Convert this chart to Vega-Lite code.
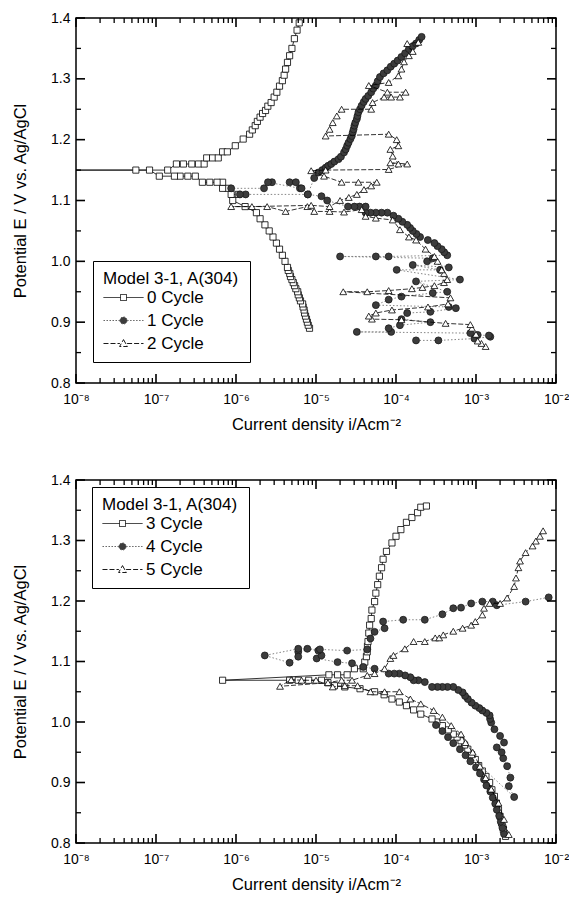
{
  "$schema": "https://vega.github.io/schema/vega-lite/v6.json",
  "padding": {"left": 11, "top": 10, "right": 4, "bottom": 5},
  "background": "white",
  "config": {
    "font": "Liberation Sans",
    "view": {"stroke": "black", "strokeWidth": 1.5},
    "axis": {"domain": false, "grid": false, "ticks": false, "labelFont": "Liberation Sans", "labelFontSize": 14, "labelColor": "black", "titleFont": "Liberation Sans", "titleFontSize": 16.5, "titleFontWeight": "normal", "titleColor": "black", "labelFlush": false},
    "tick": {"opacity": 1, "color": "black"},
    "legend": {"titleFont": "Liberation Sans", "labelFont": "Liberation Sans", "titleFontSize": 17, "labelFontSize": 17, "titleFontWeight": "normal", "titleColor": "black", "labelColor": "black", "strokeColor": "black", "fillColor": "white", "padding": 10, "rowPadding": 5, "titlePadding": 1, "symbolSize": 36, "symbolOffset": 12, "labelOffset": 15, "symbolStrokeWidth": 0.9}
  },
  "datasets": {
    "xticks": [
      {"v":1e-8,"k":"major"},{"v":1e-7,"k":"major"},{"v":1e-6,"k":"major"},{"v":1e-5,"k":"major"},{"v":1e-4,"k":"major"},{"v":1e-3,"k":"major"},{"v":1e-2,"k":"major"},
      {"v":2e-8,"k":"minor"},{"v":3e-8,"k":"minor"},{"v":4e-8,"k":"minor"},{"v":5e-8,"k":"minor"},{"v":6e-8,"k":"minor"},{"v":7e-8,"k":"minor"},{"v":8e-8,"k":"minor"},{"v":9e-8,"k":"minor"},
      {"v":2e-7,"k":"minor"},{"v":3e-7,"k":"minor"},{"v":4e-7,"k":"minor"},{"v":5e-7,"k":"minor"},{"v":6e-7,"k":"minor"},{"v":7e-7,"k":"minor"},{"v":8e-7,"k":"minor"},{"v":9e-7,"k":"minor"},
      {"v":2e-6,"k":"minor"},{"v":3e-6,"k":"minor"},{"v":4e-6,"k":"minor"},{"v":5e-6,"k":"minor"},{"v":6e-6,"k":"minor"},{"v":7e-6,"k":"minor"},{"v":8e-6,"k":"minor"},{"v":9e-6,"k":"minor"},
      {"v":2e-5,"k":"minor"},{"v":3e-5,"k":"minor"},{"v":4e-5,"k":"minor"},{"v":5e-5,"k":"minor"},{"v":6e-5,"k":"minor"},{"v":7e-5,"k":"minor"},{"v":8e-5,"k":"minor"},{"v":9e-5,"k":"minor"},
      {"v":2e-4,"k":"minor"},{"v":3e-4,"k":"minor"},{"v":4e-4,"k":"minor"},{"v":5e-4,"k":"minor"},{"v":6e-4,"k":"minor"},{"v":7e-4,"k":"minor"},{"v":8e-4,"k":"minor"},{"v":9e-4,"k":"minor"},
      {"v":2e-3,"k":"minor"},{"v":3e-3,"k":"minor"},{"v":4e-3,"k":"minor"},{"v":5e-3,"k":"minor"},{"v":6e-3,"k":"minor"},{"v":7e-3,"k":"minor"},{"v":8e-3,"k":"minor"},{"v":9e-3,"k":"minor"}
    ],
    "yticks": [
      {"v":0.8,"k":"major"},{"v":0.9,"k":"major"},{"v":1.0,"k":"major"},{"v":1.1,"k":"major"},{"v":1.2,"k":"major"},{"v":1.3,"k":"major"},{"v":1.4,"k":"major"},
      {"v":0.85,"k":"minor"},{"v":0.95,"k":"minor"},{"v":1.05,"k":"minor"},{"v":1.15,"k":"minor"},{"v":1.25,"k":"minor"},{"v":1.35,"k":"minor"}
    ],
    "top": [
      {"s":"0 Cycle","E":0.89,"i":8.3e-6},{"s":"0 Cycle","E":0.895,"i":8.0e-6},{"s":"0 Cycle","E":0.90,"i":7.8e-6},{"s":"0 Cycle","E":0.905,"i":7.6e-6},{"s":"0 Cycle","E":0.91,"i":7.4e-6},{"s":"0 Cycle","E":0.915,"i":7.2e-6},{"s":"0 Cycle","E":0.92,"i":7.1e-6},{"s":"0 Cycle","E":0.925,"i":6.9e-6},{"s":"0 Cycle","E":0.93,"i":6.8e-6},{"s":"0 Cycle","E":0.935,"i":6.4e-6},{"s":"0 Cycle","E":0.94,"i":6.2e-6},{"s":"0 Cycle","E":0.945,"i":6.0e-6},{"s":"0 Cycle","E":0.95,"i":5.9e-6},{"s":"0 Cycle","E":0.955,"i":5.6e-6},{"s":"0 Cycle","E":0.96,"i":5.4e-6},{"s":"0 Cycle","E":0.965,"i":5.2e-6},{"s":"0 Cycle","E":0.97,"i":5.0e-6},{"s":"0 Cycle","E":0.975,"i":4.8e-6},{"s":"0 Cycle","E":0.98,"i":4.7e-6},{"s":"0 Cycle","E":0.985,"i":4.5e-6},{"s":"0 Cycle","E":0.99,"i":4.4e-6},{"s":"0 Cycle","E":1.00,"i":4.1e-6},{"s":"0 Cycle","E":1.01,"i":3.8e-6},{"s":"0 Cycle","E":1.02,"i":3.5e-6},{"s":"0 Cycle","E":1.03,"i":3.2e-6},{"s":"0 Cycle","E":1.04,"i":2.9e-6},{"s":"0 Cycle","E":1.05,"i":2.6e-6},{"s":"0 Cycle","E":1.06,"i":2.3e-6},{"s":"0 Cycle","E":1.07,"i":2.0e-6},{"s":"0 Cycle","E":1.08,"i":1.8e-6},{"s":"0 Cycle","E":1.09,"i":1.3e-6},{"s":"0 Cycle","E":1.10,"i":9.1e-7},{"s":"0 Cycle","E":1.11,"i":1.07e-6},{"s":"0 Cycle","E":1.11,"i":8.7e-7},{"s":"0 Cycle","E":1.12,"i":7.9e-7},{"s":"0 Cycle","E":1.12,"i":6.8e-7},{"s":"0 Cycle","E":1.13,"i":6.8e-7},{"s":"0 Cycle","E":1.13,"i":5.8e-7},{"s":"0 Cycle","E":1.13,"i":4.7e-7},{"s":"0 Cycle","E":1.13,"i":3.8e-7},{"s":"0 Cycle","E":1.14,"i":3.1e-7},{"s":"0 Cycle","E":1.14,"i":2.5e-7},{"s":"0 Cycle","E":1.14,"i":2.0e-7},{"s":"0 Cycle","E":1.14,"i":1.7e-7},{"s":"0 Cycle","E":1.14,"i":1.1e-7},{"s":"0 Cycle","E":1.15,"i":8.3e-8},{"s":"0 Cycle","E":1.15,"i":5.6e-8},{"s":"0 Cycle","E":1.15,"i":3e-9},{"s":"0 Cycle","E":1.15,"i":1.4e-7},{"s":"0 Cycle","E":1.16,"i":1.8e-7},{"s":"0 Cycle","E":1.16,"i":2.2e-7},{"s":"0 Cycle","E":1.16,"i":2.8e-7},{"s":"0 Cycle","E":1.16,"i":3.4e-7},{"s":"0 Cycle","E":1.16,"i":4.0e-7},{"s":"0 Cycle","E":1.17,"i":4.3e-7},{"s":"0 Cycle","E":1.17,"i":5.1e-7},{"s":"0 Cycle","E":1.17,"i":6.0e-7},{"s":"0 Cycle","E":1.18,"i":6.8e-7},{"s":"0 Cycle","E":1.18,"i":7.8e-7},{"s":"0 Cycle","E":1.19,"i":9.8e-7},{"s":"0 Cycle","E":1.201,"i":1.23e-6},{"s":"0 Cycle","E":1.209,"i":1.48e-6},{"s":"0 Cycle","E":1.216,"i":1.6e-6},{"s":"0 Cycle","E":1.223,"i":1.74e-6},{"s":"0 Cycle","E":1.23,"i":1.85e-6},{"s":"0 Cycle","E":1.237,"i":2.0e-6},{"s":"0 Cycle","E":1.243,"i":2.15e-6},{"s":"0 Cycle","E":1.248,"i":2.34e-6},{"s":"0 Cycle","E":1.255,"i":2.5e-6},{"s":"0 Cycle","E":1.261,"i":2.75e-6},{"s":"0 Cycle","E":1.27,"i":3.0e-6},{"s":"0 Cycle","E":1.278,"i":3.24e-6},{"s":"0 Cycle","E":1.288,"i":3.5e-6},{"s":"0 Cycle","E":1.297,"i":3.8e-6},{"s":"0 Cycle","E":1.306,"i":4.0e-6},{"s":"0 Cycle","E":1.316,"i":4.17e-6},{"s":"0 Cycle","E":1.327,"i":4.4e-6},{"s":"0 Cycle","E":1.338,"i":4.68e-6},{"s":"0 Cycle","E":1.35,"i":5.0e-6},{"s":"0 Cycle","E":1.366,"i":5.37e-6},{"s":"0 Cycle","E":1.38,"i":5.8e-6},{"s":"0 Cycle","E":1.392,"i":6.17e-6},
      {"s":"1 Cycle","E":0.870,"i":1.78e-4},{"s":"1 Cycle","E":0.870,"i":3.39e-4},{"s":"1 Cycle","E":0.873,"i":9.55e-4},{"s":"1 Cycle","E":0.876,"i":1.51e-3},{"s":"1 Cycle","E":0.878,"i":1.45e-3},{"s":"1 Cycle","E":0.879,"i":1.05e-3},{"s":"1 Cycle","E":0.882,"i":8.5e-4},{"s":"1 Cycle","E":0.884,"i":3.24e-5},{"s":"1 Cycle","E":0.884,"i":8.7e-5},{"s":"1 Cycle","E":0.89,"i":8.1e-5},{"s":"1 Cycle","E":0.895,"i":1.12e-4},{"s":"1 Cycle","E":0.90,"i":2.69e-4},{"s":"1 Cycle","E":0.905,"i":1.17e-4},{"s":"1 Cycle","E":0.915,"i":1.38e-4},{"s":"1 Cycle","E":0.917,"i":2.69e-4},{"s":"1 Cycle","E":0.923,"i":5.6e-4},{"s":"1 Cycle","E":0.925,"i":4.57e-4},{"s":"1 Cycle","E":0.928,"i":5.6e-5},{"s":"1 Cycle","E":0.937,"i":8.1e-5},{"s":"1 Cycle","E":0.942,"i":1.17e-4},{"s":"1 Cycle","E":0.948,"i":2.88e-4},{"s":"1 Cycle","E":0.95,"i":4.37e-4},{"s":"1 Cycle","E":0.967,"i":1.78e-4},{"s":"1 Cycle","E":0.97,"i":6.3e-4},{"s":"1 Cycle","E":0.986,"i":1.02e-4},{"s":"1 Cycle","E":0.986,"i":3.55e-4},{"s":"1 Cycle","E":0.994,"i":1.62e-4},{"s":"1 Cycle","E":0.99,"i":4.57e-4},{"s":"1 Cycle","E":1.0,"i":2.45e-4},{"s":"1 Cycle","E":1.005,"i":2.88e-4},{"s":"1 Cycle","E":1.008,"i":2.0e-5},{"s":"1 Cycle","E":1.008,"i":5.6e-5},{"s":"1 Cycle","E":1.008,"i":8.1e-5},{"s":"1 Cycle","E":1.01,"i":4.37e-4},{"s":"1 Cycle","E":1.015,"i":4.0e-4},{"s":"1 Cycle","E":1.02,"i":3.72e-4},{"s":"1 Cycle","E":1.025,"i":3.3e-4},{"s":"1 Cycle","E":1.03,"i":3.02e-4},{"s":"1 Cycle","E":1.035,"i":2.5e-4},{"s":"1 Cycle","E":1.04,"i":2.0e-4},{"s":"1 Cycle","E":1.045,"i":1.8e-4},{"s":"1 Cycle","E":1.05,"i":1.62e-4},{"s":"1 Cycle","E":1.055,"i":1.5e-4},{"s":"1 Cycle","E":1.06,"i":1.38e-4},{"s":"1 Cycle","E":1.065,"i":1.2e-4},{"s":"1 Cycle","E":1.07,"i":1.07e-4},{"s":"1 Cycle","E":1.075,"i":9.3e-5},{"s":"1 Cycle","E":1.08,"i":7.8e-5},{"s":"1 Cycle","E":1.08,"i":6.6e-5},{"s":"1 Cycle","E":1.08,"i":5.6e-5},{"s":"1 Cycle","E":1.08,"i":4.8e-5},{"s":"1 Cycle","E":1.08,"i":4.17e-5},{"s":"1 Cycle","E":1.09,"i":4.17e-5},{"s":"1 Cycle","E":1.09,"i":3.5e-5},{"s":"1 Cycle","E":1.09,"i":3.02e-5},{"s":"1 Cycle","E":1.09,"i":2.51e-5},{"s":"1 Cycle","E":1.10,"i":1.38e-5},{"s":"1 Cycle","E":1.107,"i":1.17e-5},{"s":"1 Cycle","E":1.11,"i":7.9e-6},{"s":"1 Cycle","E":1.11,"i":1.32e-6},{"s":"1 Cycle","E":1.11,"i":1.12e-6},{"s":"1 Cycle","E":1.12,"i":8.7e-7},{"s":"1 Cycle","E":1.12,"i":2.24e-6},{"s":"1 Cycle","E":1.13,"i":2.82e-6},{"s":"1 Cycle","E":1.13,"i":2.51e-6},{"s":"1 Cycle","E":1.12,"i":6.3e-6},{"s":"1 Cycle","E":1.13,"i":4.68e-6},{"s":"1 Cycle","E":1.13,"i":5.6e-6},{"s":"1 Cycle","E":1.12,"i":6.6e-6},{"s":"1 Cycle","E":1.11,"i":7.9e-6},{"s":"1 Cycle","E":1.137,"i":9.5e-6},{"s":"1 Cycle","E":1.146,"i":1.07e-5},{"s":"1 Cycle","E":1.15,"i":1.2e-5},{"s":"1 Cycle","E":1.154,"i":1.32e-5},{"s":"1 Cycle","E":1.157,"i":1.42e-5},{"s":"1 Cycle","E":1.16,"i":1.55e-5},{"s":"1 Cycle","E":1.164,"i":1.7e-5},{"s":"1 Cycle","E":1.168,"i":1.91e-5},{"s":"1 Cycle","E":1.172,"i":2.05e-5},{"s":"1 Cycle","E":1.179,"i":2.24e-5},{"s":"1 Cycle","E":1.184,"i":2.35e-5},{"s":"1 Cycle","E":1.19,"i":2.45e-5},{"s":"1 Cycle","E":1.195,"i":2.55e-5},{"s":"1 Cycle","E":1.201,"i":2.69e-5},{"s":"1 Cycle","E":1.206,"i":2.8e-5},{"s":"1 Cycle","E":1.212,"i":2.88e-5},{"s":"1 Cycle","E":1.217,"i":2.95e-5},{"s":"1 Cycle","E":1.223,"i":3.02e-5},{"s":"1 Cycle","E":1.228,"i":3.1e-5},{"s":"1 Cycle","E":1.234,"i":3.24e-5},{"s":"1 Cycle","E":1.239,"i":3.3e-5},{"s":"1 Cycle","E":1.245,"i":3.39e-5},{"s":"1 Cycle","E":1.25,"i":3.55e-5},{"s":"1 Cycle","E":1.256,"i":3.72e-5},{"s":"1 Cycle","E":1.262,"i":3.95e-5},{"s":"1 Cycle","E":1.267,"i":4.17e-5},{"s":"1 Cycle","E":1.272,"i":4.5e-5},{"s":"1 Cycle","E":1.278,"i":4.9e-5},{"s":"1 Cycle","E":1.284,"i":5.2e-5},{"s":"1 Cycle","E":1.289,"i":5.6e-5},{"s":"1 Cycle","E":1.296,"i":5.9e-5},{"s":"1 Cycle","E":1.303,"i":6.3e-5},{"s":"1 Cycle","E":1.309,"i":7.0e-5},{"s":"1 Cycle","E":1.314,"i":7.8e-5},{"s":"1 Cycle","E":1.32,"i":8.6e-5},{"s":"1 Cycle","E":1.325,"i":9.5e-5},{"s":"1 Cycle","E":1.33,"i":1.05e-4},{"s":"1 Cycle","E":1.336,"i":1.17e-4},{"s":"1 Cycle","E":1.342,"i":1.3e-4},{"s":"1 Cycle","E":1.349,"i":1.45e-4},{"s":"1 Cycle","E":1.353,"i":1.6e-4},{"s":"1 Cycle","E":1.358,"i":1.78e-4},{"s":"1 Cycle","E":1.364,"i":1.95e-4},{"s":"1 Cycle","E":1.369,"i":2.09e-4},
      {"s":"2 Cycle","E":0.86,"i":1.32e-3},{"s":"2 Cycle","E":0.865,"i":1.17e-3},{"s":"2 Cycle","E":0.869,"i":1.05e-3},{"s":"2 Cycle","E":0.88,"i":1.0e-3},{"s":"2 Cycle","E":0.89,"i":8.9e-4},{"s":"2 Cycle","E":0.896,"i":8.5e-4},{"s":"2 Cycle","E":0.898,"i":4.17e-4},{"s":"2 Cycle","E":0.904,"i":1.17e-4},{"s":"2 Cycle","E":0.905,"i":5.0e-5},{"s":"2 Cycle","E":0.91,"i":4.57e-5},{"s":"2 Cycle","E":0.915,"i":5.6e-5},{"s":"2 Cycle","E":0.92,"i":8.9e-5},{"s":"2 Cycle","E":0.925,"i":2.51e-4},{"s":"2 Cycle","E":0.93,"i":4.47e-4},{"s":"2 Cycle","E":0.94,"i":4.79e-4},{"s":"2 Cycle","E":0.95,"i":2.19e-5},{"s":"2 Cycle","E":0.95,"i":4.37e-5},{"s":"2 Cycle","E":0.952,"i":8.1e-5},{"s":"2 Cycle","E":0.955,"i":1.58e-4},{"s":"2 Cycle","E":0.957,"i":2.14e-4},{"s":"2 Cycle","E":0.96,"i":3.02e-4},{"s":"2 Cycle","E":0.965,"i":3.98e-4},{"s":"2 Cycle","E":0.97,"i":4.37e-4},{"s":"2 Cycle","E":0.98,"i":3.98e-4},{"s":"2 Cycle","E":0.986,"i":3.72e-4},{"s":"2 Cycle","E":1.0,"i":3.31e-4},{"s":"2 Cycle","E":1.008,"i":3.02e-4},{"s":"2 Cycle","E":1.02,"i":2.34e-4},{"s":"2 Cycle","E":1.035,"i":1.78e-4},{"s":"2 Cycle","E":1.04,"i":1.45e-4},{"s":"2 Cycle","E":1.052,"i":1.12e-4},{"s":"2 Cycle","E":1.068,"i":9.1e-5},{"s":"2 Cycle","E":1.071,"i":5.6e-5},{"s":"2 Cycle","E":1.074,"i":4.17e-5},{"s":"2 Cycle","E":1.085,"i":3.72e-5},{"s":"2 Cycle","E":1.081,"i":2.24e-5},{"s":"2 Cycle","E":1.082,"i":1.48e-5},{"s":"2 Cycle","E":1.082,"i":9.5e-6},{"s":"2 Cycle","E":1.09,"i":7.8e-6},{"s":"2 Cycle","E":1.082,"i":4.17e-6},{"s":"2 Cycle","E":1.09,"i":2.45e-6},{"s":"2 Cycle","E":1.09,"i":8.7e-7},{"s":"2 Cycle","E":1.09,"i":1.58e-6},{"s":"2 Cycle","E":1.092,"i":8.7e-6},{"s":"2 Cycle","E":1.09,"i":1.48e-5},{"s":"2 Cycle","E":1.10,"i":2.0e-5},{"s":"2 Cycle","E":1.105,"i":2.57e-5},{"s":"2 Cycle","E":1.11,"i":3.24e-5},{"s":"2 Cycle","E":1.118,"i":3.98e-5},{"s":"2 Cycle","E":1.124,"i":4.9e-5},{"s":"2 Cycle","E":1.13,"i":5.75e-5},{"s":"2 Cycle","E":1.13,"i":3.39e-5},{"s":"2 Cycle","E":1.13,"i":2.09e-5},{"s":"2 Cycle","E":1.14,"i":1.26e-5},{"s":"2 Cycle","E":1.149,"i":8.7e-6},{"s":"2 Cycle","E":1.15,"i":1.32e-5},{"s":"2 Cycle","E":1.151,"i":8.1e-5},{"s":"2 Cycle","E":1.16,"i":1.38e-4},{"s":"2 Cycle","E":1.162,"i":8.5e-5},{"s":"2 Cycle","E":1.16,"i":1.07e-4},{"s":"2 Cycle","E":1.173,"i":9.1e-5},{"s":"2 Cycle","E":1.184,"i":8.5e-5},{"s":"2 Cycle","E":1.19,"i":1.07e-4},{"s":"2 Cycle","E":1.20,"i":1.02e-4},{"s":"2 Cycle","E":1.209,"i":8.1e-5},{"s":"2 Cycle","E":1.206,"i":1.32e-5},{"s":"2 Cycle","E":1.217,"i":1.48e-5},{"s":"2 Cycle","E":1.228,"i":1.62e-5},{"s":"2 Cycle","E":1.239,"i":1.82e-5},{"s":"2 Cycle","E":1.25,"i":2.09e-5},{"s":"2 Cycle","E":1.25,"i":4.9e-5},{"s":"2 Cycle","E":1.261,"i":5.1e-5},{"s":"2 Cycle","E":1.27,"i":7.1e-5},{"s":"2 Cycle","E":1.27,"i":8.7e-5},{"s":"2 Cycle","E":1.27,"i":1.12e-4},{"s":"2 Cycle","E":1.278,"i":1.32e-4},{"s":"2 Cycle","E":1.278,"i":7.8e-5},{"s":"2 Cycle","E":1.289,"i":4.57e-5},{"s":"2 Cycle","E":1.294,"i":8.1e-5},{"s":"2 Cycle","E":1.305,"i":1.07e-4},{"s":"2 Cycle","E":1.316,"i":1.17e-4},{"s":"2 Cycle","E":1.328,"i":1.26e-4},{"s":"2 Cycle","E":1.338,"i":1.45e-4},{"s":"2 Cycle","E":1.345,"i":1.62e-4},{"s":"2 Cycle","E":1.358,"i":1.38e-4},{"s":"2 Cycle","E":1.36,"i":1.9e-4}
    ],
    "bottom": [
      {"s":"3 Cycle","E":0.811,"i":2.34e-3},{"s":"3 Cycle","E":0.822,"i":2.2e-3},{"s":"3 Cycle","E":0.833,"i":2.09e-3},{"s":"3 Cycle","E":0.844,"i":2.0e-3},{"s":"3 Cycle","E":0.855,"i":1.91e-3},{"s":"3 Cycle","E":0.866,"i":1.8e-3},{"s":"3 Cycle","E":0.877,"i":1.7e-3},{"s":"3 Cycle","E":0.888,"i":1.58e-3},{"s":"3 Cycle","E":0.90,"i":1.48e-3},{"s":"3 Cycle","E":0.91,"i":1.33e-3},{"s":"3 Cycle","E":0.919,"i":1.2e-3},{"s":"3 Cycle","E":0.928,"i":1.08e-3},{"s":"3 Cycle","E":0.938,"i":9.8e-4},{"s":"3 Cycle","E":0.946,"i":8.8e-4},{"s":"3 Cycle","E":0.955,"i":7.9e-4},{"s":"3 Cycle","E":0.962,"i":7.2e-4},{"s":"3 Cycle","E":0.969,"i":6.5e-4},{"s":"3 Cycle","E":0.975,"i":5.8e-4},{"s":"3 Cycle","E":0.98,"i":5.2e-4},{"s":"3 Cycle","E":0.987,"i":4.5e-4},{"s":"3 Cycle","E":0.994,"i":3.8e-4},{"s":"3 Cycle","E":1.0,"i":3.24e-4},{"s":"3 Cycle","E":1.005,"i":2.82e-4},{"s":"3 Cycle","E":1.013,"i":2.04e-4},{"s":"3 Cycle","E":1.02,"i":1.66e-4},{"s":"3 Cycle","E":1.027,"i":1.35e-4},{"s":"3 Cycle","E":1.033,"i":1.1e-4},{"s":"3 Cycle","E":1.038,"i":8.9e-5},{"s":"3 Cycle","E":1.045,"i":7.1e-5},{"s":"3 Cycle","E":1.05,"i":5.4e-5},{"s":"3 Cycle","E":1.055,"i":3.55e-5},{"s":"3 Cycle","E":1.058,"i":2.29e-5},{"s":"3 Cycle","E":1.06,"i":1.7e-5},{"s":"3 Cycle","E":1.065,"i":1.41e-5},{"s":"3 Cycle","E":1.069,"i":1.17e-5},{"s":"3 Cycle","E":1.069,"i":8.1e-6},{"s":"3 Cycle","E":1.069,"i":6.0e-6},{"s":"3 Cycle","E":1.069,"i":4.68e-6},{"s":"3 Cycle","E":1.069,"i":6.8e-7},{"s":"3 Cycle","E":1.078,"i":1.45e-5},{"s":"3 Cycle","E":1.078,"i":1.86e-5},{"s":"3 Cycle","E":1.078,"i":2.45e-5},{"s":"3 Cycle","E":1.088,"i":3.02e-5},{"s":"3 Cycle","E":1.088,"i":3.9e-5},{"s":"3 Cycle","E":1.099,"i":4.07e-5},{"s":"3 Cycle","E":1.108,"i":4.27e-5},{"s":"3 Cycle","E":1.116,"i":4.37e-5},{"s":"3 Cycle","E":1.125,"i":4.4e-5},{"s":"3 Cycle","E":1.133,"i":4.47e-5},{"s":"3 Cycle","E":1.147,"i":4.57e-5},{"s":"3 Cycle","E":1.16,"i":4.68e-5},{"s":"3 Cycle","E":1.171,"i":4.9e-5},{"s":"3 Cycle","E":1.185,"i":5.0e-5},{"s":"3 Cycle","E":1.199,"i":5.4e-5},{"s":"3 Cycle","E":1.213,"i":5.6e-5},{"s":"3 Cycle","E":1.227,"i":5.9e-5},{"s":"3 Cycle","E":1.241,"i":6.2e-5},{"s":"3 Cycle","E":1.255,"i":6.6e-5},{"s":"3 Cycle","E":1.269,"i":6.9e-5},{"s":"3 Cycle","E":1.282,"i":7.6e-5},{"s":"3 Cycle","E":1.296,"i":8.9e-5},{"s":"3 Cycle","E":1.307,"i":1.0e-4},{"s":"3 Cycle","E":1.318,"i":1.15e-4},{"s":"3 Cycle","E":1.33,"i":1.35e-4},{"s":"3 Cycle","E":1.338,"i":1.58e-4},{"s":"3 Cycle","E":1.346,"i":1.86e-4},{"s":"3 Cycle","E":1.355,"i":2.04e-4},{"s":"3 Cycle","E":1.357,"i":2.4e-4},
      {"s":"4 Cycle","E":0.815,"i":2.24e-3},{"s":"4 Cycle","E":0.825,"i":2.14e-3},{"s":"4 Cycle","E":0.835,"i":2.04e-3},{"s":"4 Cycle","E":0.845,"i":1.95e-3},{"s":"4 Cycle","E":0.855,"i":1.82e-3},{"s":"4 Cycle","E":0.865,"i":1.74e-3},{"s":"4 Cycle","E":0.875,"i":1.62e-3},{"s":"4 Cycle","E":0.885,"i":1.51e-3},{"s":"4 Cycle","E":0.895,"i":1.35e-3},{"s":"4 Cycle","E":0.905,"i":1.26e-3},{"s":"4 Cycle","E":0.915,"i":1.12e-3},{"s":"4 Cycle","E":0.925,"i":1.0e-3},{"s":"4 Cycle","E":0.935,"i":8.5e-4},{"s":"4 Cycle","E":0.945,"i":7.4e-4},{"s":"4 Cycle","E":0.955,"i":6.3e-4},{"s":"4 Cycle","E":0.965,"i":5.2e-4},{"s":"4 Cycle","E":0.975,"i":4.47e-4},{"s":"4 Cycle","E":0.985,"i":3.8e-4},{"s":"4 Cycle","E":0.995,"i":3.16e-4},{"s":"4 Cycle","E":0.876,"i":3.0e-3},{"s":"4 Cycle","E":0.894,"i":2.57e-3},{"s":"4 Cycle","E":0.908,"i":2.69e-3},{"s":"4 Cycle","E":0.927,"i":2.45e-3},{"s":"4 Cycle","E":0.94,"i":2.19e-3},{"s":"4 Cycle","E":0.95,"i":2.09e-3},{"s":"4 Cycle","E":0.958,"i":1.82e-3},{"s":"4 Cycle","E":0.966,"i":2.24e-3},{"s":"4 Cycle","E":0.977,"i":2.0e-3},{"s":"4 Cycle","E":0.988,"i":1.7e-3},{"s":"4 Cycle","E":0.999,"i":1.55e-3},{"s":"4 Cycle","E":1.005,"i":1.5e-3},{"s":"4 Cycle","E":1.011,"i":1.48e-3},{"s":"4 Cycle","E":1.015,"i":1.35e-3},{"s":"4 Cycle","E":1.019,"i":1.2e-3},{"s":"4 Cycle","E":1.023,"i":1.1e-3},{"s":"4 Cycle","E":1.027,"i":9.8e-4},{"s":"4 Cycle","E":1.032,"i":8.8e-4},{"s":"4 Cycle","E":1.038,"i":7.9e-4},{"s":"4 Cycle","E":1.043,"i":7.3e-4},{"s":"4 Cycle","E":1.049,"i":6.8e-4},{"s":"4 Cycle","E":1.053,"i":6.0e-4},{"s":"4 Cycle","E":1.058,"i":5.2e-4},{"s":"4 Cycle","E":1.058,"i":4.4e-4},{"s":"4 Cycle","E":1.058,"i":3.8e-4},{"s":"4 Cycle","E":1.058,"i":3.3e-4},{"s":"4 Cycle","E":1.058,"i":2.82e-4},{"s":"4 Cycle","E":1.066,"i":2.29e-4},{"s":"4 Cycle","E":1.069,"i":1.9e-4},{"s":"4 Cycle","E":1.069,"i":1.66e-4},{"s":"4 Cycle","E":1.074,"i":1.51e-4},{"s":"4 Cycle","E":1.077,"i":1.3e-4},{"s":"4 Cycle","E":1.08,"i":1.1e-4},{"s":"4 Cycle","E":1.08,"i":9.5e-5},{"s":"4 Cycle","E":1.08,"i":8.1e-5},{"s":"4 Cycle","E":1.088,"i":5.4e-5},{"s":"4 Cycle","E":1.091,"i":3.9e-5},{"s":"4 Cycle","E":1.097,"i":2.82e-5},{"s":"4 Cycle","E":1.099,"i":1.86e-5},{"s":"4 Cycle","E":1.105,"i":1.02e-5},{"s":"4 Cycle","E":1.11,"i":1.17e-5},{"s":"4 Cycle","E":1.118,"i":1.07e-5},{"s":"4 Cycle","E":1.121,"i":7.8e-6},{"s":"4 Cycle","E":1.116,"i":6.0e-6},{"s":"4 Cycle","E":1.108,"i":6.0e-6},{"s":"4 Cycle","E":1.098,"i":4.68e-6},{"s":"4 Cycle","E":1.11,"i":2.29e-6},{"s":"4 Cycle","E":1.121,"i":6.0e-6},{"s":"4 Cycle","E":1.12,"i":1.12e-5},{"s":"4 Cycle","E":1.118,"i":2.45e-5},{"s":"4 Cycle","E":1.12,"i":4.37e-5},{"s":"4 Cycle","E":1.138,"i":4.79e-5},{"s":"4 Cycle","E":1.149,"i":5.4e-5},{"s":"4 Cycle","E":1.155,"i":7.2e-5},{"s":"4 Cycle","E":1.166,"i":6.9e-5},{"s":"4 Cycle","E":1.169,"i":1.23e-4},{"s":"4 Cycle","E":1.169,"i":2.29e-4},{"s":"4 Cycle","E":1.178,"i":3.8e-4},{"s":"4 Cycle","E":1.188,"i":5.2e-4},{"s":"4 Cycle","E":1.189,"i":6.5e-4},{"s":"4 Cycle","E":1.196,"i":8.7e-4},{"s":"4 Cycle","E":1.199,"i":1.2e-3},{"s":"4 Cycle","E":1.199,"i":1.62e-3},{"s":"4 Cycle","E":1.193,"i":1.82e-3},{"s":"4 Cycle","E":1.199,"i":4.17e-3},{"s":"4 Cycle","E":1.206,"i":8.1e-3},
      {"s":"5 Cycle","E":0.814,"i":2.57e-3},{"s":"5 Cycle","E":0.839,"i":2.24e-3},{"s":"5 Cycle","E":0.866,"i":1.91e-3},{"s":"5 Cycle","E":0.889,"i":1.55e-3},{"s":"5 Cycle","E":0.908,"i":1.32e-3},{"s":"5 Cycle","E":0.927,"i":1.12e-3},{"s":"5 Cycle","E":0.95,"i":9.1e-4},{"s":"5 Cycle","E":0.966,"i":7.4e-4},{"s":"5 Cycle","E":0.98,"i":6.5e-4},{"s":"5 Cycle","E":0.994,"i":4.9e-4},{"s":"5 Cycle","E":1.008,"i":3.8e-4},{"s":"5 Cycle","E":1.019,"i":2.95e-4},{"s":"5 Cycle","E":1.03,"i":2.04e-4},{"s":"5 Cycle","E":1.038,"i":1.51e-4},{"s":"5 Cycle","E":1.05,"i":1.1e-4},{"s":"5 Cycle","E":1.05,"i":7.2e-5},{"s":"5 Cycle","E":1.05,"i":4.79e-5},{"s":"5 Cycle","E":1.06,"i":3.31e-5},{"s":"5 Cycle","E":1.06,"i":2.29e-5},{"s":"5 Cycle","E":1.058,"i":1.62e-5},{"s":"5 Cycle","E":1.069,"i":1.0e-5},{"s":"5 Cycle","E":1.069,"i":6.6e-6},{"s":"5 Cycle","E":1.07,"i":4.9e-6},{"s":"5 Cycle","E":1.059,"i":3.55e-6},{"s":"5 Cycle","E":1.065,"i":1.41e-5},{"s":"5 Cycle","E":1.069,"i":2.09e-5},{"s":"5 Cycle","E":1.069,"i":2.82e-5},{"s":"5 Cycle","E":1.077,"i":4.37e-5},{"s":"5 Cycle","E":1.08,"i":5.4e-5},{"s":"5 Cycle","E":1.088,"i":7.2e-5},{"s":"5 Cycle","E":1.105,"i":8.5e-5},{"s":"5 Cycle","E":1.11,"i":9.3e-5},{"s":"5 Cycle","E":1.121,"i":1.29e-4},{"s":"5 Cycle","E":1.133,"i":1.66e-4},{"s":"5 Cycle","E":1.133,"i":2.29e-4},{"s":"5 Cycle","E":1.139,"i":3.09e-4},{"s":"5 Cycle","E":1.139,"i":3.47e-4},{"s":"5 Cycle","E":1.144,"i":3.9e-4},{"s":"5 Cycle","E":1.15,"i":5.2e-4},{"s":"5 Cycle","E":1.155,"i":6.8e-4},{"s":"5 Cycle","E":1.16,"i":8.7e-4},{"s":"5 Cycle","E":1.166,"i":9.8e-4},{"s":"5 Cycle","E":1.177,"i":1.2e-3},{"s":"5 Cycle","E":1.188,"i":1.26e-3},{"s":"5 Cycle","E":1.196,"i":1.48e-3},{"s":"5 Cycle","E":1.196,"i":2.0e-3},{"s":"5 Cycle","E":1.205,"i":2.45e-3},{"s":"5 Cycle","E":1.224,"i":3.0e-3},{"s":"5 Cycle","E":1.238,"i":3.16e-3},{"s":"5 Cycle","E":1.255,"i":3.39e-3},{"s":"5 Cycle","E":1.266,"i":3.55e-3},{"s":"5 Cycle","E":1.28,"i":4.17e-3},{"s":"5 Cycle","E":1.291,"i":5.1e-3},{"s":"5 Cycle","E":1.299,"i":5.6e-3},{"s":"5 Cycle","E":1.307,"i":6.3e-3},{"s":"5 Cycle","E":1.316,"i":6.9e-3}
    ]
  },
  "resolve": {"scale": {"shape": "independent", "fill": "independent", "stroke": "independent", "strokeDash": "independent"}, "legend": {"shape": "independent", "fill": "independent", "stroke": "independent", "strokeDash": "independent"}},
  "bounds": "flush",
  "spacing": 97,
  "vconcat": [
    {
      "width": 480, "height": 365,
      "data": {"name": "top"},
      "layer": [
        {
          "transform": [{"filter": "datum.s === '0 Cycle'"}],
          "mark": {"type": "line", "stroke": "black", "strokeWidth": 0.8, "clip": true},
          "encoding": {
            "x": {"field": "i", "type": "quantitative", "scale": {"type": "log", "domain": [1e-8, 1e-2], "nice": false},
                  "axis": {"orient": "bottom", "values": [1e-8,1e-7,1e-6,1e-5,1e-4,1e-3,1e-2], "ticks": false, "labelPadding": 9, "titlePadding": 10, "title": "Current density i/Acm⁻²",
                           "labelExpr": "'10' + ['⁻⁸','⁻⁷','⁻⁶','⁻⁵','⁻⁴','⁻³','⁻²'][round(log(datum.value)/LN10)+8]"}},
            "y": {"field": "E", "type": "quantitative", "scale": {"domain": [0.8, 1.4], "nice": false, "zero": false},
                  "axis": {"orient": "left", "values": [0.8,0.9,1.0,1.1,1.2,1.3,1.4], "format": ".1f", "ticks": false, "labelPadding": 6, "titlePadding": 22, "title": "Potential E / V vs. Ag/AgCl"}},
            "order": {"value": null}
          }
        },
        {
          "transform": [{"filter": "datum.s === '0 Cycle'"}],
          "mark": {"type": "point", "shape": "square", "fill": "white", "fillOpacity": 1, "stroke": "black", "strokeWidth": 0.8, "size": 38, "opacity": 1, "clip": true},
          "encoding": {"x": {"field": "i", "type": "quantitative"}, "y": {"field": "E", "type": "quantitative"}}
        },
        {
          "transform": [{"filter": "datum.s === '1 Cycle'"}],
          "mark": {"type": "line", "stroke": "#777777", "strokeWidth": 0.9, "strokeDash": [1.5, 2], "clip": true},
          "encoding": {"x": {"field": "i", "type": "quantitative"}, "y": {"field": "E", "type": "quantitative"}, "order": {"value": null}}
        },
        {
          "transform": [{"filter": "datum.s === '1 Cycle'"}],
          "mark": {"type": "point", "shape": "circle", "fill": "#3c3c3c", "fillOpacity": 1, "stroke": "#1a1a1a", "strokeWidth": 0.8, "size": 48, "opacity": 1, "clip": true},
          "encoding": {"x": {"field": "i", "type": "quantitative"}, "y": {"field": "E", "type": "quantitative"}}
        },
        {
          "transform": [{"filter": "datum.s === '2 Cycle'"}],
          "mark": {"type": "line", "stroke": "black", "strokeWidth": 0.8, "strokeDash": [5, 2], "clip": true},
          "encoding": {"x": {"field": "i", "type": "quantitative"}, "y": {"field": "E", "type": "quantitative"}, "order": {"value": null}}
        },
        {
          "transform": [{"filter": "datum.s === '2 Cycle'"}],
          "mark": {"type": "point", "shape": "triangle-up", "fill": "white", "fillOpacity": 1, "stroke": "black", "strokeWidth": 0.8, "size": 46, "opacity": 1, "clip": true},
          "encoding": {"x": {"field": "i", "type": "quantitative"}, "y": {"field": "E", "type": "quantitative"}}
        },
        {
          "data": {"name": "xticks"},
          "transform": [{"filter": "datum.k === 'major'"}],
          "layer": [
            {"mark": {"type": "tick", "orient": "vertical", "size": 9, "thickness": 1.6, "yOffset": -4.5, "opacity": 1, "color": "black"},
             "encoding": {"x": {"field": "v", "type": "quantitative"}, "y": {"datum": 0.8, "type": "quantitative"}}},
            {"mark": {"type": "tick", "orient": "vertical", "size": 9, "thickness": 1.6, "yOffset": 4.5, "opacity": 1, "color": "black"},
             "encoding": {"x": {"field": "v", "type": "quantitative"}, "y": {"datum": 1.4, "type": "quantitative"}}}
          ]
        },
        {
          "data": {"name": "xticks"},
          "transform": [{"filter": "datum.k === 'minor'"}],
          "layer": [
            {"mark": {"type": "tick", "orient": "vertical", "size": 5, "thickness": 1.3, "yOffset": -2.5, "opacity": 1, "color": "black"},
             "encoding": {"x": {"field": "v", "type": "quantitative"}, "y": {"datum": 0.8, "type": "quantitative"}}},
            {"mark": {"type": "tick", "orient": "vertical", "size": 5, "thickness": 1.3, "yOffset": 2.5, "opacity": 1, "color": "black"},
             "encoding": {"x": {"field": "v", "type": "quantitative"}, "y": {"datum": 1.4, "type": "quantitative"}}}
          ]
        },
        {
          "data": {"name": "yticks"},
          "transform": [{"filter": "datum.k === 'major'"}],
          "layer": [
            {"mark": {"type": "tick", "orient": "horizontal", "size": 9, "thickness": 1.6, "xOffset": 4.5, "opacity": 1, "color": "black"},
             "encoding": {"y": {"field": "v", "type": "quantitative"}, "x": {"datum": 1e-8, "type": "quantitative"}}},
            {"mark": {"type": "tick", "orient": "horizontal", "size": 9, "thickness": 1.6, "xOffset": -4.5, "opacity": 1, "color": "black"},
             "encoding": {"y": {"field": "v", "type": "quantitative"}, "x": {"datum": 1e-2, "type": "quantitative"}}}
          ]
        },
        {
          "data": {"name": "yticks"},
          "transform": [{"filter": "datum.k === 'minor'"}],
          "layer": [
            {"mark": {"type": "tick", "orient": "horizontal", "size": 5, "thickness": 1.3, "xOffset": 2.5, "opacity": 1, "color": "black"},
             "encoding": {"y": {"field": "v", "type": "quantitative"}, "x": {"datum": 1e-8, "type": "quantitative"}}},
            {"mark": {"type": "tick", "orient": "horizontal", "size": 5, "thickness": 1.3, "xOffset": -2.5, "opacity": 1, "color": "black"},
             "encoding": {"y": {"field": "v", "type": "quantitative"}, "x": {"datum": 1e-2, "type": "quantitative"}}}
          ]
        },
        {
          "transform": [{"filter": "false"}],
          "mark": {"type": "point", "filled": true, "size": 36, "strokeWidth": 0.9, "opacity": 1},
          "encoding": {
            "x": {"field": "i", "type": "quantitative"},
            "y": {"field": "E", "type": "quantitative"},
            "shape": {"field": "s", "type": "nominal", "scale": {"domain": ["0 Cycle","1 Cycle","2 Cycle"], "range": ["M-6.67,0H-1M1,0H6.67M-1,-1H1V1H-1Z", "M-6.67,0H-1.2M1.2,0H6.67M-1.2,0A1.2,1.2,0,1,0,1.2,0A1.2,1.2,0,1,0,-1.2,0Z", "M-6.67,0H-1.2M1.2,0H6.67M0,-1.3L1.3,1H-1.3Z"]},
                      "legend": {"orient": "none", "legendX": 17, "legendY": 243, "title": "Model 3-1, A(304)"}},
            "fill": {"field": "s", "type": "nominal", "scale": {"domain": ["0 Cycle","1 Cycle","2 Cycle"], "range": ["white", "#3c3c3c", "white"]},
                      "legend": {"orient": "none", "legendX": 17, "legendY": 243, "title": "Model 3-1, A(304)"}},
            "stroke": {"field": "s", "type": "nominal", "scale": {"domain": ["0 Cycle","1 Cycle","2 Cycle"], "range": ["black", "#555555", "black"]},
                      "legend": {"orient": "none", "legendX": 17, "legendY": 243, "title": "Model 3-1, A(304)"}},
            "strokeDash": {"field": "s", "type": "nominal", "scale": {"domain": ["0 Cycle","1 Cycle","2 Cycle"], "range": [[1,0],[1.5,1.5],[5,2]]},
                      "legend": {"orient": "none", "legendX": 17, "legendY": 243, "title": "Model 3-1, A(304)"}}
          }
        }
      ]
    },
    {
      "width": 480, "height": 363,
      "data": {"name": "bottom"},
      "layer": [
        {
          "transform": [{"filter": "datum.s === '3 Cycle'"}],
          "mark": {"type": "line", "stroke": "black", "strokeWidth": 0.8, "clip": true},
          "encoding": {
            "x": {"field": "i", "type": "quantitative", "scale": {"type": "log", "domain": [1e-8, 1e-2], "nice": false},
                  "axis": {"orient": "bottom", "values": [1e-8,1e-7,1e-6,1e-5,1e-4,1e-3,1e-2], "ticks": false, "labelPadding": 9, "titlePadding": 10, "title": "Current density i/Acm⁻²",
                           "labelExpr": "'10' + ['⁻⁸','⁻⁷','⁻⁶','⁻⁵','⁻⁴','⁻³','⁻²'][round(log(datum.value)/LN10)+8]"}},
            "y": {"field": "E", "type": "quantitative", "scale": {"domain": [0.8, 1.4], "nice": false, "zero": false},
                  "axis": {"orient": "left", "values": [0.8,0.9,1.0,1.1,1.2,1.3,1.4], "format": ".1f", "ticks": false, "labelPadding": 6, "titlePadding": 22, "title": "Potential E / V vs. Ag/AgCl"}},
            "order": {"value": null}
          }
        },
        {
          "transform": [{"filter": "datum.s === '3 Cycle'"}],
          "mark": {"type": "point", "shape": "square", "fill": "white", "fillOpacity": 1, "stroke": "black", "strokeWidth": 0.8, "size": 38, "opacity": 1, "clip": true},
          "encoding": {"x": {"field": "i", "type": "quantitative"}, "y": {"field": "E", "type": "quantitative"}}
        },
        {
          "transform": [{"filter": "datum.s === '4 Cycle'"}],
          "mark": {"type": "line", "stroke": "#777777", "strokeWidth": 0.9, "strokeDash": [1.5, 2], "clip": true},
          "encoding": {"x": {"field": "i", "type": "quantitative"}, "y": {"field": "E", "type": "quantitative"}, "order": {"value": null}}
        },
        {
          "transform": [{"filter": "datum.s === '4 Cycle'"}],
          "mark": {"type": "point", "shape": "circle", "fill": "#3c3c3c", "fillOpacity": 1, "stroke": "#1a1a1a", "strokeWidth": 0.8, "size": 48, "opacity": 1, "clip": true},
          "encoding": {"x": {"field": "i", "type": "quantitative"}, "y": {"field": "E", "type": "quantitative"}}
        },
        {
          "transform": [{"filter": "datum.s === '5 Cycle'"}],
          "mark": {"type": "line", "stroke": "black", "strokeWidth": 0.8, "strokeDash": [5, 2], "clip": true},
          "encoding": {"x": {"field": "i", "type": "quantitative"}, "y": {"field": "E", "type": "quantitative"}, "order": {"value": null}}
        },
        {
          "transform": [{"filter": "datum.s === '5 Cycle'"}],
          "mark": {"type": "point", "shape": "triangle-up", "fill": "white", "fillOpacity": 1, "stroke": "black", "strokeWidth": 0.8, "size": 46, "opacity": 1, "clip": true},
          "encoding": {"x": {"field": "i", "type": "quantitative"}, "y": {"field": "E", "type": "quantitative"}}
        },
        {
          "data": {"name": "xticks"},
          "transform": [{"filter": "datum.k === 'major'"}],
          "layer": [
            {"mark": {"type": "tick", "orient": "vertical", "size": 9, "thickness": 1.6, "yOffset": -4.5, "opacity": 1, "color": "black"},
             "encoding": {"x": {"field": "v", "type": "quantitative"}, "y": {"datum": 0.8, "type": "quantitative"}}},
            {"mark": {"type": "tick", "orient": "vertical", "size": 9, "thickness": 1.6, "yOffset": 4.5, "opacity": 1, "color": "black"},
             "encoding": {"x": {"field": "v", "type": "quantitative"}, "y": {"datum": 1.4, "type": "quantitative"}}}
          ]
        },
        {
          "data": {"name": "xticks"},
          "transform": [{"filter": "datum.k === 'minor'"}],
          "layer": [
            {"mark": {"type": "tick", "orient": "vertical", "size": 5, "thickness": 1.3, "yOffset": -2.5, "opacity": 1, "color": "black"},
             "encoding": {"x": {"field": "v", "type": "quantitative"}, "y": {"datum": 0.8, "type": "quantitative"}}},
            {"mark": {"type": "tick", "orient": "vertical", "size": 5, "thickness": 1.3, "yOffset": 2.5, "opacity": 1, "color": "black"},
             "encoding": {"x": {"field": "v", "type": "quantitative"}, "y": {"datum": 1.4, "type": "quantitative"}}}
          ]
        },
        {
          "data": {"name": "yticks"},
          "transform": [{"filter": "datum.k === 'major'"}],
          "layer": [
            {"mark": {"type": "tick", "orient": "horizontal", "size": 9, "thickness": 1.6, "xOffset": 4.5, "opacity": 1, "color": "black"},
             "encoding": {"y": {"field": "v", "type": "quantitative"}, "x": {"datum": 1e-8, "type": "quantitative"}}},
            {"mark": {"type": "tick", "orient": "horizontal", "size": 9, "thickness": 1.6, "xOffset": -4.5, "opacity": 1, "color": "black"},
             "encoding": {"y": {"field": "v", "type": "quantitative"}, "x": {"datum": 1e-2, "type": "quantitative"}}}
          ]
        },
        {
          "data": {"name": "yticks"},
          "transform": [{"filter": "datum.k === 'minor'"}],
          "layer": [
            {"mark": {"type": "tick", "orient": "horizontal", "size": 5, "thickness": 1.3, "xOffset": 2.5, "opacity": 1, "color": "black"},
             "encoding": {"y": {"field": "v", "type": "quantitative"}, "x": {"datum": 1e-8, "type": "quantitative"}}},
            {"mark": {"type": "tick", "orient": "horizontal", "size": 5, "thickness": 1.3, "xOffset": -2.5, "opacity": 1, "color": "black"},
             "encoding": {"y": {"field": "v", "type": "quantitative"}, "x": {"datum": 1e-2, "type": "quantitative"}}}
          ]
        },
        {
          "transform": [{"filter": "false"}],
          "mark": {"type": "point", "filled": true, "size": 36, "strokeWidth": 0.9, "opacity": 1},
          "encoding": {
            "x": {"field": "i", "type": "quantitative"},
            "y": {"field": "E", "type": "quantitative"},
            "shape": {"field": "s", "type": "nominal", "scale": {"domain": ["3 Cycle","4 Cycle","5 Cycle"], "range": ["M-6.67,0H-1M1,0H6.67M-1,-1H1V1H-1Z", "M-6.67,0H-1.2M1.2,0H6.67M-1.2,0A1.2,1.2,0,1,0,1.2,0A1.2,1.2,0,1,0,-1.2,0Z", "M-6.67,0H-1.2M1.2,0H6.67M0,-1.3L1.3,1H-1.3Z"]},
                      "legend": {"orient": "none", "legendX": 16, "legendY": 7, "title": "Model 3-1, A(304)"}},
            "fill": {"field": "s", "type": "nominal", "scale": {"domain": ["3 Cycle","4 Cycle","5 Cycle"], "range": ["white", "#3c3c3c", "white"]},
                      "legend": {"orient": "none", "legendX": 16, "legendY": 7, "title": "Model 3-1, A(304)"}},
            "stroke": {"field": "s", "type": "nominal", "scale": {"domain": ["3 Cycle","4 Cycle","5 Cycle"], "range": ["black", "#555555", "black"]},
                      "legend": {"orient": "none", "legendX": 16, "legendY": 7, "title": "Model 3-1, A(304)"}},
            "strokeDash": {"field": "s", "type": "nominal", "scale": {"domain": ["3 Cycle","4 Cycle","5 Cycle"], "range": [[1,0],[1.5,1.5],[5,2]]},
                      "legend": {"orient": "none", "legendX": 16, "legendY": 7, "title": "Model 3-1, A(304)"}}
          }
        }
      ]
    }
  ]
}
